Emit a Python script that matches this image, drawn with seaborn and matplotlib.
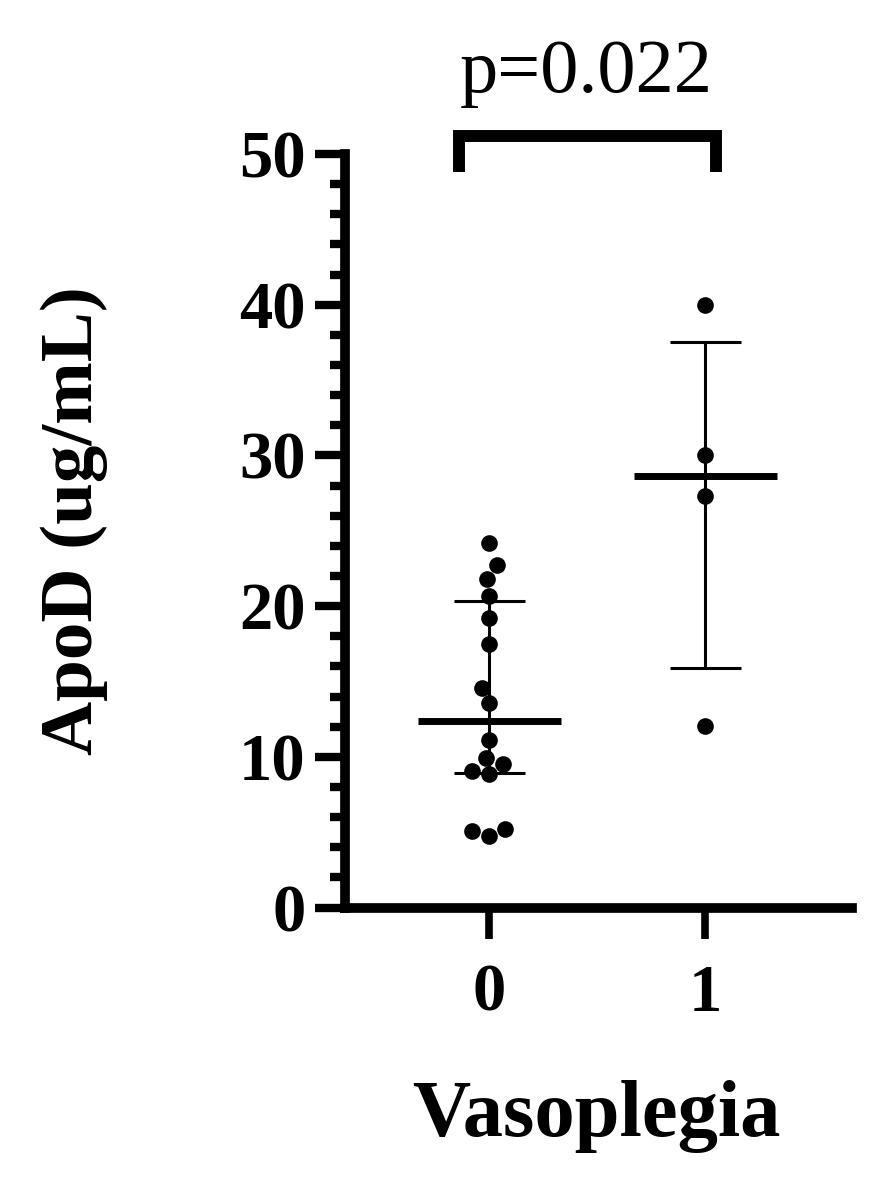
import numpy as np
import pandas as pd
import matplotlib
matplotlib.use("Agg")
import matplotlib.pyplot as plt
from matplotlib.ticker import MultipleLocator
import seaborn as sns

# ---- data ----
groups = ["0", "1"]
apod_group0 = [24.2, 22.7, 21.8, 20.7, 19.2, 17.5, 14.6, 13.6, 11.1, 9.95, 9.55, 9.07, 8.85, 5.2, 5.1, 4.77]
apod_group1 = [40.0, 30.0, 27.3, 12.05]
p_text = "p=0.022"
y_ticks = [0, 10, 20, 30, 40, 50]
x_label = "Vasoplegia"
y_label = "ApoD (ug/mL)"

df = pd.DataFrame({
    "Vasoplegia": [groups[0]] * len(apod_group0) + [groups[1]] * len(apod_group1),
    "ApoD": apod_group0 + apod_group1,
})

sns.set_style("ticks")
plt.rcParams["font.family"] = ["Liberation Serif", "DejaVu Serif"]
plt.rcParams["text.color"] = "black"
plt.rcParams["axes.labelcolor"] = "black"
plt.rcParams["xtick.color"] = "black"
plt.rcParams["ytick.color"] = "black"

fig = plt.figure(figsize=(8.89, 11.91), dpi=100)
ax = fig.add_axes([0.3881, 0.2380, 0.5703, 0.6327])

sns.swarmplot(data=df, x="Vasoplegia", y="ApoD", order=groups, color="black",
              size=12, ax=ax, zorder=3)

# median + interquartile range (GraphPad style quartiles)
for i, vals in enumerate([apod_group0, apod_group1]):
    v = np.asarray(vals)
    med = np.median(v)
    q1, q3 = np.percentile(v, [25, 75], method="weibull")
    ax.hlines(med, i - 0.331, i + 0.331, color="black", lw=5.0, zorder=4)
    ax.vlines(i, q1, q3, color="black", lw=2.2, zorder=4)
    ax.hlines([q1, q3], i - 0.164, i + 0.164, color="black", lw=2.2, zorder=4)

ax.set_xlim(-0.667, 1.68)
ax.set_ylim(0, 50)
ax.set_yticks(y_ticks)
ax.yaxis.set_minor_locator(MultipleLocator(2))

for s in ["top", "right"]:
    ax.spines[s].set_visible(False)
for s in ["left", "bottom"]:
    ax.spines[s].set_linewidth(7)
    ax.spines[s].set_color("black")

ax.tick_params(axis="y", which="major", length=21.5, width=6, pad=7,
               labelsize=48, labelcolor="black", color="black")
ax.tick_params(axis="y", which="minor", length=11, width=6, color="black")
ax.tick_params(axis="x", which="major", length=22.5, width=5.5, pad=18,
               labelsize=48, labelcolor="black", color="black")
for lab in ax.get_xticklabels() + ax.get_yticklabels():
    lab.set_fontweight("bold")

ax.set_xlabel(x_label, fontsize=58, fontweight="bold", color="black")
ax.set_ylabel(y_label, fontsize=54, fontweight="bold", color="black")
ax.xaxis.set_label_coords(0.495, -0.229)
ax.yaxis.set_label_coords(-0.4675, 0.514)

# significance bracket
ax.plot([-0.139, -0.139, 1.051, 1.051], [48.8, 51.2, 51.2, 48.8], color="black",
        lw=8.6, solid_joinstyle="miter", solid_capstyle="butt", clip_on=False)
ax.text(0.449, 54.1, p_text, ha="center", va="baseline", fontsize=55,
        color="black", clip_on=False)

fig.savefig("out.png", dpi=100, facecolor="white")
